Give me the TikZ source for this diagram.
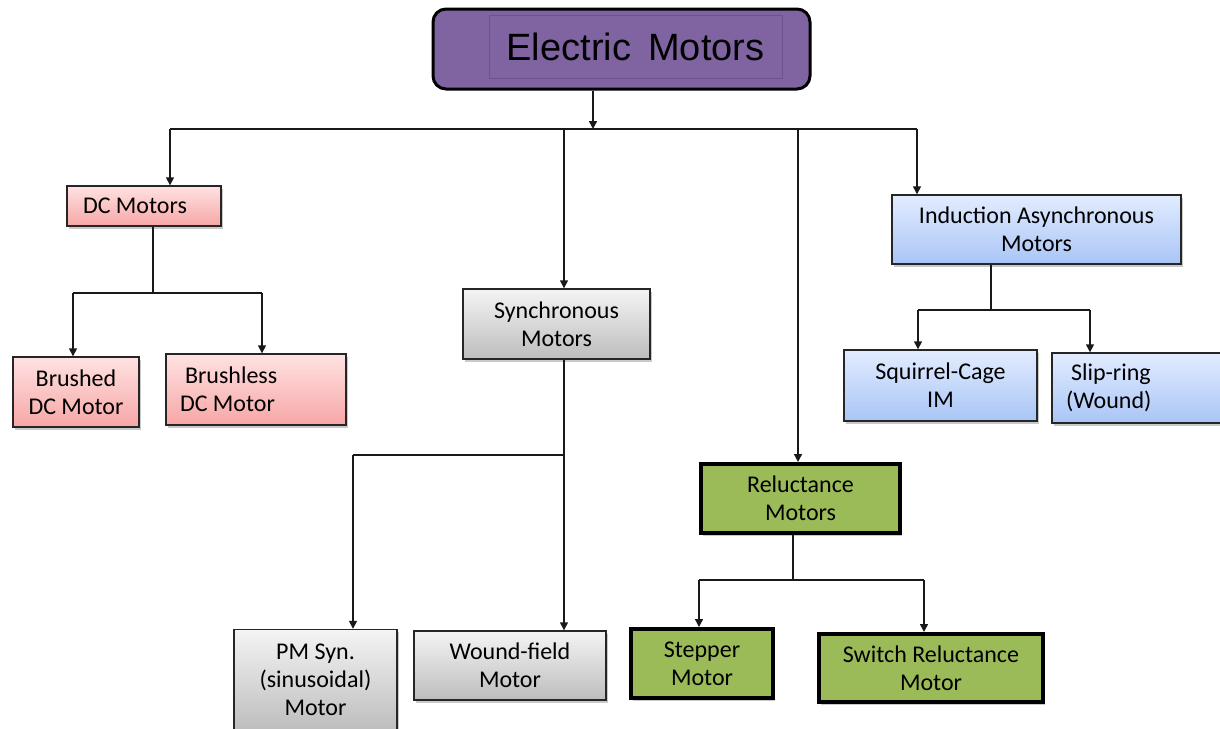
\documentclass[tikz,border=0pt]{standalone}
\usepackage{fontspec}
\setmainfont{Carlito}
\newfontfamily\arialfont{Liberation Sans}
\usetikzlibrary{arrows.meta,shadows,calc}
\definecolor{purp}{HTML}{8064A2}
\definecolor{purpline}{HTML}{6B5390}
\definecolor{pinktop}{HTML}{FFE2E2}
\definecolor{pinkbot}{HTML}{F7A6A6}
\definecolor{greytop}{HTML}{F4F4F4}
\definecolor{greybot}{HTML}{BDBDBD}
\definecolor{bluetop}{HTML}{E2ECFF}
\definecolor{bluebot}{HTML}{A9C5F6}
\definecolor{grn}{HTML}{9BBB59}
\tikzset{
  box/.style={draw=black!85, line width=1.4pt, inner sep=0pt, align=center,
    font=\fontsize{24}{28}\selectfont,
    drop shadow={shadow xshift=2pt, shadow yshift=-2.5pt, opacity=0.35, fill=black!60}},
  pinkbox/.style={box, top color=pinktop, bottom color=pinkbot},
  greybox/.style={box, top color=greytop, bottom color=greybot},
  bluebox/.style={box, top color=bluetop, bottom color=bluebot},
  greenbox/.style={box, fill=grn, line width=4pt, draw=black},
  conn/.style={line width=1.4pt, draw=black!90},
  arr/.style={conn, -{Triangle[width=8pt,length=8pt]}}
}
\begin{document}
\begin{tikzpicture}[x=1pt,y=-1pt]
\useasboundingbox (0,0) rectangle (1220,728);
\fill[white] (0,0) rectangle (1220,728);

% title
\node[draw=black, line width=3pt, fill=purp, rounded corners=13pt,
      minimum width=377pt, minimum height=80pt, inner sep=0pt] (title) at (621.5,49) {};
\node[draw=purpline, line width=0.8pt, minimum width=293pt, minimum height=63pt,
      inner sep=0pt, font=\arialfont\fontsize{38}{44}\selectfont] (titletext) at (635.5,46.5)
      {Electric\hspace{0.45em}Motors};

% first level
\node[pinkbox, minimum width=154pt, minimum height=40pt, text width=122pt, align=flush left,
      inner xsep=16pt] (dc) at (144,206) {DC Motors};
\node[greybox, minimum width=187pt, minimum height=70pt] (sync) at (556.5,324) {Synchronous\\Motors};
\node[greenbox, minimum width=199pt, minimum height=69pt] (rel) at (800.5,498.5) {Reluctance\\Motors};
\node[bluebox, minimum width=289pt, minimum height=69pt] (ind) at (1036.5,229.5) {Induction Asynchronous\\Motors};

% second level
\node[pinkbox, minimum width=126pt, minimum height=70pt] (brushed) at (76,392) {Brushed\\DC Motor};
\node[pinkbox, minimum width=180pt, minimum height=71pt, text width=152pt, align=flush left,
      inner xsep=14pt] (brushless) at (256,389.5) {\hspace{5pt}Brushless\\DC Motor};
\node[greybox, minimum width=163pt, minimum height=101pt] (pm) at (315.5,680) {PM Syn.\\(sinusoidal)\\Motor};
\node[greybox, minimum width=192pt, minimum height=69pt] (wound) at (510,665.5) {Wound-field\\Motor};
\node[greenbox, minimum width=142pt, minimum height=69pt] (step) at (702,663.5) {Stepper\\Motor};
\node[greenbox, minimum width=224pt, minimum height=68pt] (sw) at (931,668) {Switch Reluctance\\Motor};
\node[bluebox, minimum width=193pt, minimum height=71pt] (sq) at (940.5,385.5) {Squirrel-Cage\\IM};
\node[bluebox, minimum width=190pt, minimum height=70pt, text width=162pt, align=flush left,
      inner xsep=14pt] (slip) at (1147,388) {\hspace{5pt}Slip-ring\\(Wound)};

% connectors from title
\coordinate (j0) at (593,129);
\coordinate (hl) at (170,129);
\coordinate (hr) at (917,129);
\coordinate (vs) at (564,129);
\coordinate (vr) at (798,129);
\draw[arr] (title.south -| j0) -- (j0);
\draw[conn] (hl) -- (hr);
\draw[arr] (hl) -- (hl |- dc.north);
\draw[arr] (vs) -- (vs |- sync.north);
\draw[arr] (vr) -- (vr |- rel.north);
\draw[arr] (hr) -- (hr |- ind.north);

% DC branch
\coordinate (dcj) at (153,293);
\coordinate (dcl) at (73,293);
\coordinate (dcr) at (262,293);
\draw[conn] (dc.south -| dcj) -- (dcj);
\draw[conn] (dcl) -- (dcr);
\draw[arr] (dcl) -- (dcl |- brushed.north);
\draw[arr] (dcr) -- (dcr |- brushless.north);

% Synchronous branch
\coordinate (syj) at (564,455);
\coordinate (syl) at (353,455);
\draw[arr] (sync.south -| syj) -- (syj |- wound.north);
\draw[conn] (syj) -- (syl);
\draw[arr] (syl) -- (syl |- pm.north);

% Reluctance branch
\coordinate (rej) at (793,580);
\coordinate (rel1) at (699,580);
\coordinate (rer) at (924,580);
\draw[conn] (rel.south -| rej) -- (rej);
\draw[conn] (rel1) -- (rer);
\draw[arr] (rel1) -- (rel1 |- step.north);
\draw[arr] (rer) -- (rer |- sw.north);

% Induction branch
\coordinate (inj) at (991,310);
\coordinate (inl) at (918,310);
\coordinate (inr) at (1090,310);
\draw[conn] (ind.south -| inj) -- (inj);
\draw[conn] (inl) -- (inr);
\draw[arr] (inl) -- (inl |- sq.north);
\draw[arr] (inr) -- (inr |- slip.north);
\end{tikzpicture}
\end{document}
